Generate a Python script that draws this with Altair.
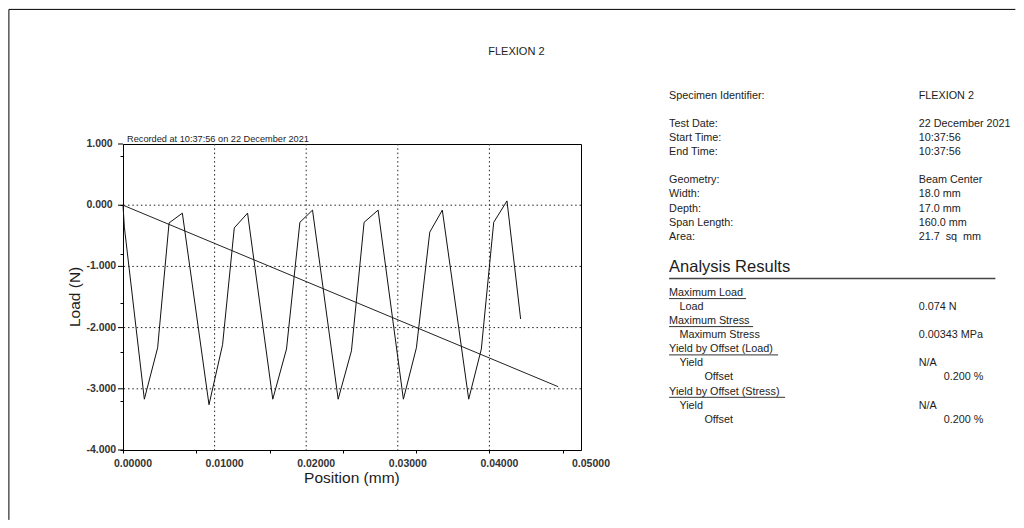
import altair as alt
import pandas as pd

# ---------------- data ----------------
position_mm = [0.0, 0.00015, 0.00233, 0.00378, 0.00503, 0.00648,
               0.00939, 0.01087, 0.01215, 0.01360,
               0.01635, 0.01785, 0.01931, 0.02069,
               0.02349, 0.02494, 0.02632, 0.02785,
               0.03061, 0.03203, 0.03349, 0.03486,
               0.03774, 0.03912, 0.04047, 0.04192,
               0.04341]
load_n = [0.0, -0.36, -3.17, -2.33, -0.29, -0.13,
          -3.26, -2.28, -0.37, -0.13,
          -3.17, -2.35, -0.28, -0.08,
          -3.17, -2.38, -0.28, -0.08,
          -3.17, -2.33, -0.44, -0.08,
          -3.17, -2.35, -0.28, 0.07,
          -1.86]

fit_position = [0.0, 0.0475]
fit_load = [0.0, -2.965]

x_grid = [0.01, 0.02, 0.03, 0.04]
y_grid = [0.0, -1.0, -2.0, -3.0]
x_ticks = [round(i * 0.001, 3) for i in range(51)]
y_ticks = [round(-4 + i * 0.1, 1) for i in range(51)]
x_label_values = [0.0, 0.01, 0.02, 0.03, 0.04, 0.05]
x_label_texts = ["0.00000", "0.01000", "0.02000", "0.03000", "0.04000", "0.05000"]
y_label_values = [1.0, 0.0, -1.0, -2.0, -3.0, -4.0]
y_label_texts = ["1.000", "0.000", "-1.000", "-2.000", "-3.000", "-4.000"]

title_text = "FLEXION 2"
recorded_text = "Recorded at 10:37:56 on 22 December 2021"
x_title = "Position (mm)"
y_title = "Load (N)"

info_labels = ["Specimen Identifier:", "Test Date:", "Start Time:", "End Time:",
               "Geometry:", "Width:", "Depth:", "Span Length:", "Area:"]
info_values = ["FLEXION 2", "22 December 2021", "10:37:56", "10:37:56",
               "Beam Center", "18.0 mm", "17.0 mm", "160.0 mm", "21.7\u00a0 sq\u00a0 mm"]
info_rows_y = [94.7, 122.7, 137.0, 151.0, 179.3, 193.3, 207.7, 221.7, 235.7]

results_heading = "Analysis Results"
results_labels = ["Maximum Load", "Load", "Maximum Stress", "Maximum Stress",
                  "Yield by Offset (Load)", "Yield", "Offset",
                  "Yield by Offset (Stress)", "Yield", "Offset"]
results_indent = [0, 1, 0, 1, 0, 1, 2, 0, 1, 2]
results_values = ["", "0.074 N", "", "0.00343 MPa", "", "N/A", "0.200 %", "", "N/A", "0.200 %"]
results_rows_y = [292.0, 306.3, 320.0, 334.0, 348.3, 362.3, 376.3, 390.7, 404.7, 419.0]
underline_widths = {0: 77, 2: 84, 4: 109, 7: 116}

# ---------------- layout (page pixels -> view pixels) ----------------
OX, OY = 122.6, 143.1
W, H = 458, 306
FONT = "Liberation Sans"
TXT = "#1c1c1c"
AXTXT = "#333"
label_x = 668.7
value_x = 918.3
indent_x = [668.7, 679.0, 704.0]
value_x_indent2 = 943.3

xs = alt.Scale(domain=[0, 0.05], nice=False, zero=False)
ys = alt.Scale(domain=[-4, 1], nice=False, zero=False)

series_df = pd.DataFrame({"pos": position_mm, "load": load_n, "idx": range(len(load_n))})
fit_df = pd.DataFrame({"pos": fit_position, "load": fit_load})

x_axis = alt.Axis(values=x_ticks, title=None, grid=False, labels=False,
                  tickSize=3, tickColor="black", domainColor="black")
y_axis = alt.Axis(values=y_ticks, title=None, grid=False, labels=False,
                  tickSize=3, tickColor="black", domainColor="black")

GRID_DASH = [1.5, 2.8]
xgrid = alt.Chart(pd.DataFrame({"pos": x_grid})).mark_rule(
    color="#222", strokeDash=GRID_DASH, strokeWidth=1).encode(x=alt.X("pos:Q", scale=xs))
ygrid = alt.Chart(pd.DataFrame({"load": y_grid})).mark_rule(
    color="#222", strokeDash=GRID_DASH, strokeWidth=1).encode(y=alt.Y("load:Q", scale=ys))

line = alt.Chart(series_df).mark_line(color="#111", strokeWidth=1).encode(
    x=alt.X("pos:Q", scale=xs, axis=x_axis),
    y=alt.Y("load:Q", scale=ys, axis=y_axis),
    order="idx:Q",
)
fit = alt.Chart(fit_df).mark_line(color="#222", strokeWidth=1).encode(
    x=alt.X("pos:Q", scale=xs), y=alt.Y("load:Q", scale=ys))

xlabels = alt.Chart(pd.DataFrame({"pos": x_label_values, "lab": x_label_texts})).mark_text(
    font=FONT, fontSize=10.5, fontWeight="bold", color=AXTXT, baseline="middle", align="center", dx=10).encode(
    x=alt.X("pos:Q", scale=xs), y=alt.value(463 - OY), text="lab:N")

ylabels = alt.Chart(pd.DataFrame({"load": y_label_values, "lab": y_label_texts})).mark_text(
    font=FONT, fontSize=10.5, fontWeight="bold", color=AXTXT, baseline="middle", align="left").encode(
    y=alt.Y("load:Q", scale=ys), x=alt.value(86 - OX), text="lab:N")

ymajor = alt.Chart(pd.DataFrame({"load": y_label_values})).mark_rule(color="black", strokeWidth=1).encode(
    y=alt.Y("load:Q", scale=ys), x=alt.value(-5), x2=alt.value(0))

# text table
rows = []
rows.append(dict(px=516 - OX, py=51 - OY, text=title_text, size=11, al="center", ang=0))
rows.append(dict(px=126.7 - OX, py=138.3 - OY, text=recorded_text, size=9.2, al="left", ang=0))
rows.append(dict(px=351.5 - OX, py=477 - OY, text=x_title, size=15.5, al="center", ang=0))
rows.append(dict(px=75 - OX, py=296 - OY, text=y_title, size=15.5, al="center", ang=270))
for lab, val, yy in zip(info_labels, info_values, info_rows_y):
    rows.append(dict(px=label_x - OX, py=yy - OY, text=lab, size=10.8, al="left", ang=0))
    rows.append(dict(px=value_x - OX, py=yy - OY, text=val, size=10.8, al="left", ang=0))
rows.append(dict(px=label_x - OX, py=266 - OY, text=results_heading, size=16.5, al="left", ang=0))
for lab, ind, val, yy in zip(results_labels, results_indent, results_values, results_rows_y):
    rows.append(dict(px=indent_x[ind] - OX, py=yy - OY, text=lab, size=10.8, al="left", ang=0))
    if val:
        vx = value_x_indent2 if ind == 2 else value_x
        rows.append(dict(px=vx - OX, py=yy - OY, text=val, size=10.8, al="left", ang=0))
text_df = pd.DataFrame(rows)


def text_layer(df, align, angle):
    return alt.Chart(df).mark_text(font=FONT, color=TXT, baseline="middle",
                                   align=align, angle=angle).encode(
        x=alt.X("px:Q", scale=None),
        y=alt.Y("py:Q", scale=None),
        text="text:N",
        size=alt.Size("size:Q", scale=None, legend=None),
    )


t_left = text_layer(text_df[text_df["al"] == "left"], "left", 0)
t_center = text_layer(text_df[(text_df["al"] == "center") & (text_df["ang"] == 0)], "center", 0)
t_rot = text_layer(text_df[text_df["ang"] == 270], "center", 270)

# underlines
ul_rows = []
for i, w in underline_widths.items():
    yy = results_rows_y[i] + 5.7
    ul_rows.append(dict(x0=label_x - OX, x1=label_x + w - OX, uy=yy - OY))
ul_df = pd.DataFrame(ul_rows)
underlines = alt.Chart(ul_df).mark_rule(color="#333", strokeWidth=1).encode(
    x=alt.X("x0:Q", scale=None), x2="x1:Q", y=alt.Y("uy:Q", scale=None))
heading_rule = alt.Chart(pd.DataFrame({"x0": [label_x - OX], "x1": [995 - OX], "uy": [277.7 - OY]})).mark_rule(
    color="#444", strokeWidth=1.5).encode(
    x=alt.X("x0:Q", scale=None), x2="x1:Q", y=alt.Y("uy:Q", scale=None))

# page border (left and top)
border_df = pd.DataFrame({
    "bx0": [8.5 - OX, 8.5 - OX],
    "bx1": [8.5 - OX, 1015 - OX],
    "by0": [8.5 - OY, 8.5 - OY],
    "by1": [519 - OY, 8.5 - OY],
})
border = alt.Chart(border_df).mark_rule(color="black", strokeWidth=1).encode(
    x=alt.X("bx0:Q", scale=None), x2="bx1:Q",
    y=alt.Y("by0:Q", scale=None), y2="by1:Q")

chart = alt.layer(
    xgrid, ygrid, fit, line, ymajor, xlabels, ylabels, t_left, t_center, t_rot,
    underlines, heading_rule, border
).properties(
    width=W, height=H, padding=0, background="white"
).configure_view(stroke="black", strokeWidth=1)

chart.save("out.html", embed_options={"renderer": "svg", "actions": False})
